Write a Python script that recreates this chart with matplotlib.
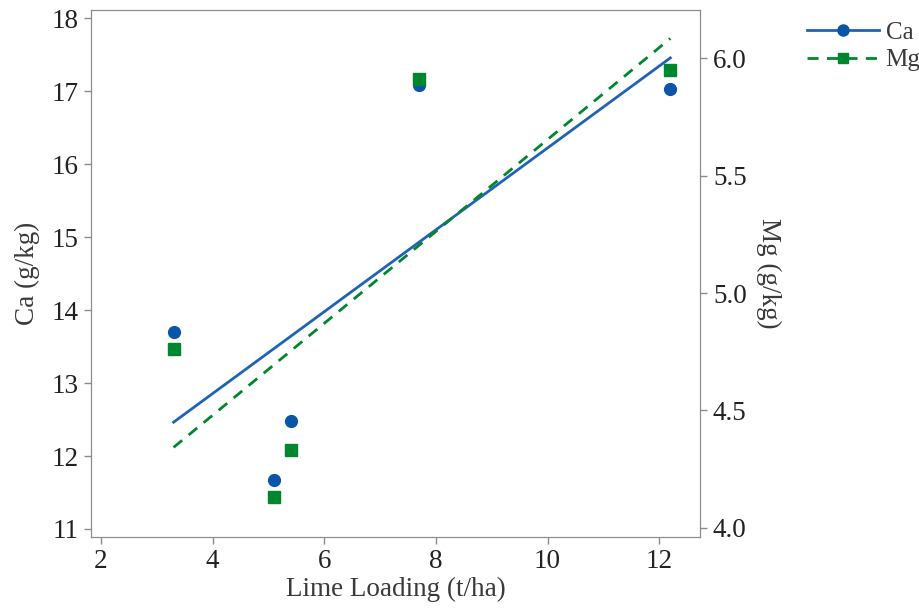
import matplotlib.pyplot as plt
import numpy as np
from matplotlib.lines import Line2D

# data
lime = [3.3, 5.1, 5.4, 7.7, 12.2]
ca = [13.70, 11.67, 12.48, 17.09, 17.03]
mg = [4.76, 4.13, 4.33, 5.91, 5.95]

ca_col = '#0B55A8'
ca_line = '#1F63B4'
mg_col = '#00862E'
txt = '#3A3A3A'
spine = '#8C8C8C'

plt.rcParams['font.family'] = ['Liberation Serif', 'DejaVu Serif']
plt.rcParams['font.size'] = 19.5

fig = plt.figure(figsize=(9.2, 6.11), dpi=100)
ax1 = fig.add_axes([0.0989, 0.1216, 0.6625, 0.862])
ax2 = ax1.twinx()

x = np.array(lime)
xx = np.array([x.min(), x.max()])

# Ca on left axis
p = np.polyfit(x, ca, 1)
ax1.plot(xx, np.polyval(p, xx), color=ca_line, lw=2)
ax1.plot(x, ca, 'o', color=ca_col, ms=8.5, ls='none')

# Mg on right axis
q = np.polyfit(x, mg, 1)
ax2.plot(xx, np.polyval(q, xx), color=mg_col, lw=2, ls=(0, (4, 3)))
ax2.plot(x, mg, 's', color=mg_col, ms=8, ls='none')

ax1.set_xlim(1.82, 12.74)
ax1.set_ylim(10.894, 18.114)
ax2.set_ylim(3.962, 6.206)
ax1.set_xticks([2, 4, 6, 8, 10, 12])
ax1.set_yticks(range(11, 19))
ax2.set_yticks([4.0, 4.5, 5.0, 5.5, 6.0])
ax2.set_yticklabels(['4.0', '4.5', '5.0', '5.5', '6.0'])

ax1.set_xlabel('Lime Loading (t/ha)', color=txt, labelpad=2)
ax1.set_ylabel('Ca (g/kg)', color=txt, labelpad=8)
ax2.set_ylabel('Mg (g/kg)', color=txt, rotation=270, labelpad=25)

for a in (ax1, ax2):
    for s in a.spines.values():
        s.set_color(spine)
    a.tick_params(colors=spine, labelcolor='#222222', length=5, width=1, pad=4)

handles = [Line2D([], [], color=ca_line, lw=2, marker='o', ms=8, mfc=ca_col, mec=ca_col),
           Line2D([], [], color=mg_col, lw=2, ls=(0, (4, 3)), marker='s', ms=7)]
fig.legend(handles, ['Ca', 'Mg'], loc='upper left', bbox_to_anchor=(0.877, 0.965),
           frameon=False, handlelength=2.9, handletextpad=0.25, labelspacing=0.2,
           borderaxespad=0, borderpad=0, labelcolor=txt, fontsize=18)

fig.savefig('out.png', dpi=100)
